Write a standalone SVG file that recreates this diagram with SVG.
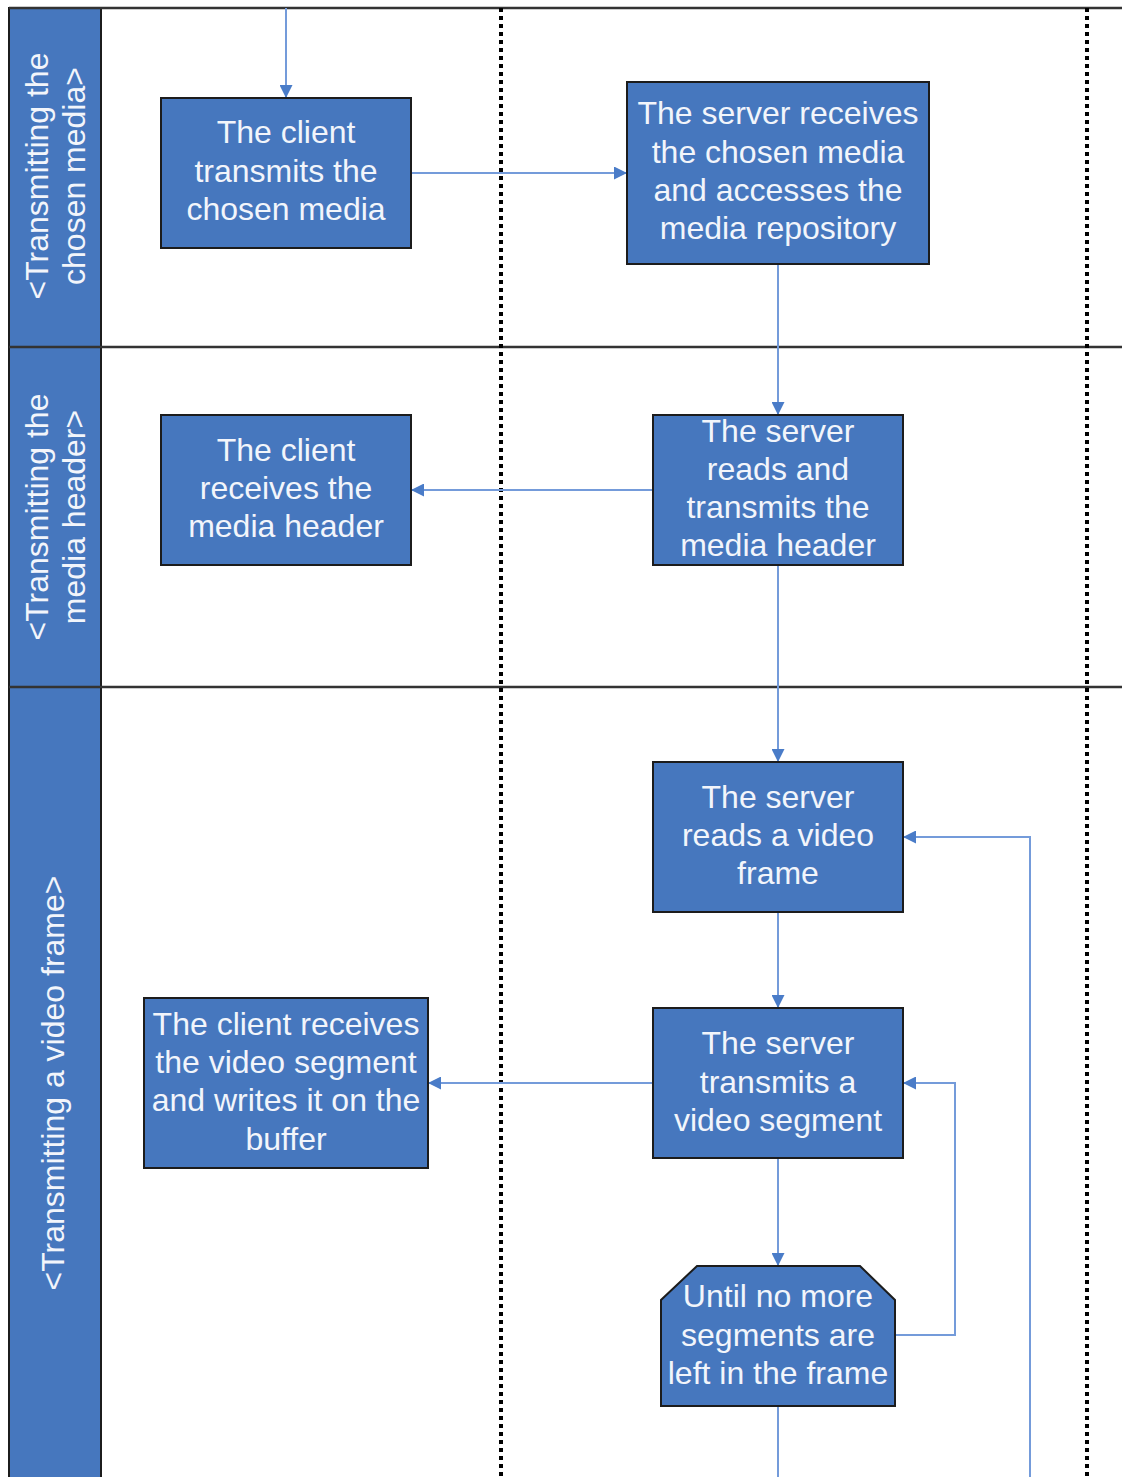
<svg xmlns="http://www.w3.org/2000/svg" width="1122" height="1477" viewBox="0 0 1122 1477">
  <style>
    .lanehead { fill: #4677BE; stroke: #1c1c1c; stroke-width: 2; }
    .frame { stroke: #333333; stroke-width: 2.5; fill: none; }
    .divider { stroke: #000000; stroke-width: 4; stroke-dasharray: 4 4; fill: none; }
    .box { fill: #4677BE; stroke: #1c1c1c; stroke-width: 2; }
    .label { font-family: "Liberation Sans", Arial, sans-serif; font-size: 32px; fill: #F2F5FB; text-anchor: middle; }
    .wire { stroke: #749BDA; stroke-width: 2; fill: none; marker-end: url(#arrow); }
    .wire-plain { stroke: #749BDA; stroke-width: 2; fill: none; }
  </style>
  <defs>
    <marker id="arrow" markerUnits="userSpaceOnUse" markerWidth="13" markerHeight="13" refX="13" refY="6.5" orient="auto">
      <path d="M0,0 L13,6.5 L0,13 Z" fill="#4A7CC8"/>
    </marker>
  </defs>

  <rect x="0" y="0" width="1122" height="1477" fill="#ffffff"/>

  <!-- swimlane headers -->
  <g id="lanes">
    <rect class="lanehead" x="9" y="8" width="92" height="339"/>
    <rect class="lanehead" x="9" y="347" width="92" height="340"/>
    <rect class="lanehead" x="9" y="687" width="92" height="800"/>
    <line class="frame" x1="9" y1="8" x2="1122" y2="8"/>
    <line class="frame" x1="9" y1="347" x2="1122" y2="347"/>
    <line class="frame" x1="9" y1="687" x2="1122" y2="687"/>
    <line class="divider" x1="501" y1="8" x2="501" y2="1477"/>
    <line class="divider" x1="1087" y1="8" x2="1087" y2="1477"/>
    <text class="label" transform="translate(48,176) rotate(-90)"><tspan x="0" y="0">&lt;Transmitting the</tspan><tspan x="0" y="37">chosen media&gt;</tspan></text>
    <text class="label" transform="translate(48,517) rotate(-90)"><tspan x="0" y="0">&lt;Transmitting the</tspan><tspan x="0" y="37">media header&gt;</tspan></text>
    <text class="label" transform="translate(64,1083) rotate(-90)">&lt;Transmitting a video frame&gt;</text>
  </g>

  <!-- connectors -->
  <g id="connectors">
    <path class="wire" d="M286,8 V98"/>
    <path class="wire" d="M411,173 H627"/>
    <path class="wire" d="M778,264 V415"/>
    <path class="wire" d="M653,490 H411"/>
    <path class="wire" d="M778,565 V762"/>
    <path class="wire" d="M778,912 V1008"/>
    <path class="wire" d="M653,1083 H428"/>
    <path class="wire" d="M778,1158 V1266"/>
    <path class="wire" d="M895,1335 H955 V1083 H903"/>
    <path class="wire-plain" d="M778,1406 V1477"/>
    <path class="wire" d="M1030,1477 V837 H903"/>
  </g>

  <!-- process nodes -->
  <g id="client-transmits">
    <rect class="box" x="161" y="98" width="250" height="150"/>
    <text class="label"><tspan x="286" y="143">The client</tspan><tspan x="286" y="182">transmits the</tspan><tspan x="286" y="220">chosen media</tspan></text>
  </g>
  <g id="server-receives">
    <rect class="box" x="627" y="82" width="302" height="182"/>
    <text class="label"><tspan x="778" y="124">The server receives</tspan><tspan x="778" y="163">the chosen media</tspan><tspan x="778" y="201">and accesses the</tspan><tspan x="778" y="239">media repository</tspan></text>
  </g>
  <g id="client-receives-header">
    <rect class="box" x="161" y="415" width="250" height="150"/>
    <text class="label"><tspan x="286" y="461">The client</tspan><tspan x="286" y="499">receives the</tspan><tspan x="286" y="537">media header</tspan></text>
  </g>
  <g id="server-sends-header">
    <rect class="box" x="653" y="415" width="250" height="150"/>
    <text class="label"><tspan x="778" y="442">The server</tspan><tspan x="778" y="480">reads and</tspan><tspan x="778" y="518">transmits the</tspan><tspan x="778" y="556">media header</tspan></text>
  </g>
  <g id="server-reads-frame">
    <rect class="box" x="653" y="762" width="250" height="150"/>
    <text class="label"><tspan x="778" y="808">The server</tspan><tspan x="778" y="846">reads a video</tspan><tspan x="778" y="884">frame</tspan></text>
  </g>
  <g id="server-sends-segment">
    <rect class="box" x="653" y="1008" width="250" height="150"/>
    <text class="label"><tspan x="778" y="1054">The server</tspan><tspan x="778" y="1093">transmits a</tspan><tspan x="778" y="1131">video segment</tspan></text>
  </g>
  <g id="client-buffers-segment">
    <rect class="box" x="144" y="998" width="284" height="170"/>
    <text class="label"><tspan x="286" y="1035">The client receives</tspan><tspan x="286" y="1073">the video segment</tspan><tspan x="286" y="1111">and writes it on the</tspan><tspan x="286" y="1150">buffer</tspan></text>
  </g>
  <g id="segment-loop">
    <path class="box" d="M697,1266 H860 L895,1300 V1406 H661 V1300 Z"/>
    <text class="label"><tspan x="778" y="1307">Until no more</tspan><tspan x="778" y="1346">segments are</tspan><tspan x="778" y="1384">left in the frame</tspan></text>
  </g>
</svg>
